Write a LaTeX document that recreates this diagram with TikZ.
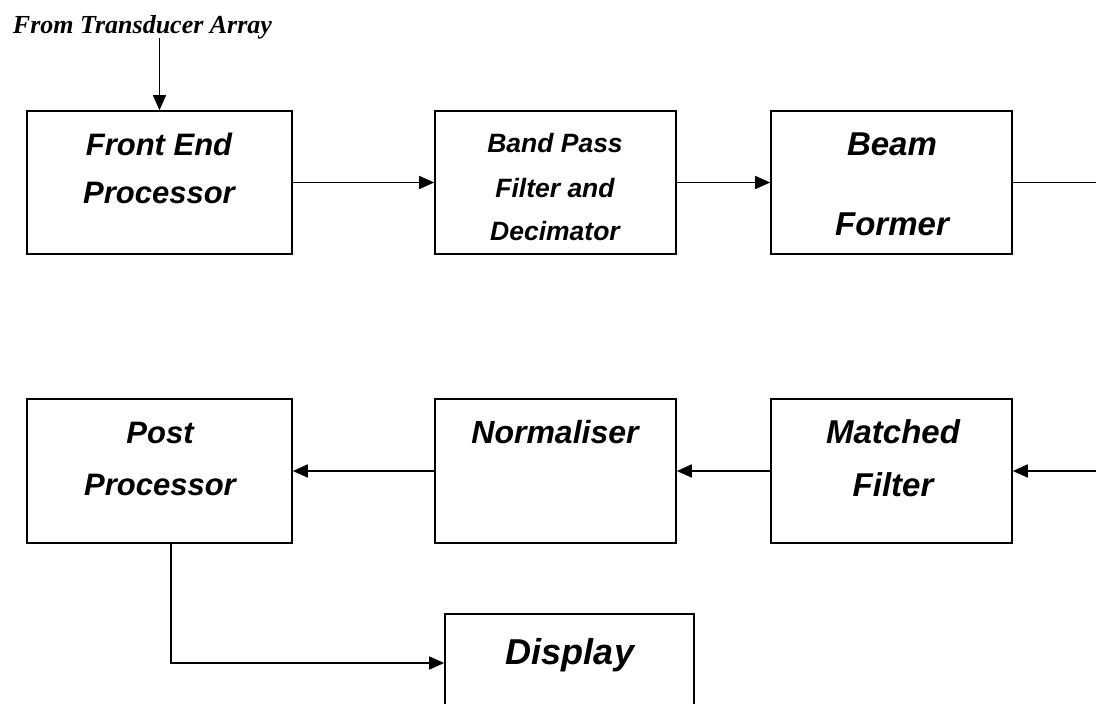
\documentclass[tikz,border=0pt]{standalone}
\usepackage{fontspec}
\setmainfont{Liberation Sans}
\newfontfamily\tnrfont{Liberation Serif}
\usetikzlibrary{arrows.meta}
\begin{document}
\begin{tikzpicture}[x=1pt,y=-1pt,
  blk/.style={draw, line width=1.7pt, inner sep=0pt, minimum height=143pt},
  arr/.style={line width=1.7pt, -{Triangle[length=15pt,width=13pt]}},
  ln/.style={line width=1.7pt},
  big/.style={anchor=base, inner sep=0pt, font=\fontsize{31}{37}\selectfont\bfseries\itshape},
  mid/.style={anchor=base, inner sep=0pt, font=\fontsize{26.5}{32}\selectfont\bfseries\itshape},
  hdr/.style={anchor=base, inner sep=0pt, font=\tnrfont\fontsize{26}{30}\selectfont\bfseries\itshape}
]
\useasboundingbox (0,0) rectangle (1096,704);

% boxes
\node[blk, minimum width=265pt] (fe) at (159.5,182.5) {};
\node[blk, minimum width=241pt] (bp) at (555.5,182.5) {};
\node[blk, minimum width=241pt] (bf) at (891.5,182.5) {};
\node[blk, minimum width=265pt, minimum height=144pt] (pp) at (159.5,471) {};
\node[blk, minimum width=241pt, minimum height=144pt] (nm) at (555.5,471) {};
\node[blk, minimum width=241pt, minimum height=144pt] (mf) at (891.5,471) {};
\node[blk, minimum width=249pt, minimum height=146pt] (dp) at (569.5,687) {};

% labels
\node[hdr] (src) at (142.5,33) {From Transducer Array};
\node[big] (fe1) at (159,155) {Front End};
\node[big] (fe2) at (159,203) {Processor};
\node[mid] (bp1) at (555,152) {Band Pass};
\node[mid] (bp2) at (555,197) {Filter and};
\node[mid] (bp3) at (555,240) {Decimator};
\node[big, font=\fontsize{33}{39}\selectfont\bfseries\itshape] (bf1) at (892,155) {Beam};
\node[big, font=\fontsize{33}{39}\selectfont\bfseries\itshape] (bf2) at (892,235) {Former};
\node[big, font=\fontsize{33}{39}\selectfont\bfseries\itshape] (mf1) at (893,443) {Matched};
\node[big, font=\fontsize{33}{39}\selectfont\bfseries\itshape] (mf2) at (893,496) {Filter};
\node[big] (pp1) at (160,443) {Post};
\node[big] (pp2) at (160,495) {Processor};
\node[big, font=\fontsize{32}{38}\selectfont\bfseries\itshape] (nm1) at (555,443) {Normaliser};
\node[big, font=\fontsize{36}{42}\selectfont\bfseries\itshape] (dp1) at (570,664) {Display};

% connectors
\coordinate (srcpt) at (159.5,38);
\coordinate (outR) at (1098,182.5);
\coordinate (inR) at (1098,471);
\draw[arr] (srcpt) -- (fe.north);
\draw[arr] (fe.east) -- (bp.west);
\draw[arr] (bp.east) -- (bf.west);
\draw[ln] (bf.east) -- (outR);
\draw[arr] (inR) -- (mf.east);
\draw[arr] (mf.west) -- (nm.east);
\draw[arr] (nm.west) -- (pp.east);
\draw[arr] ([xshift=11.5pt]pp.south) |- ([yshift=24pt]dp.west);
\end{tikzpicture}
\end{document}
